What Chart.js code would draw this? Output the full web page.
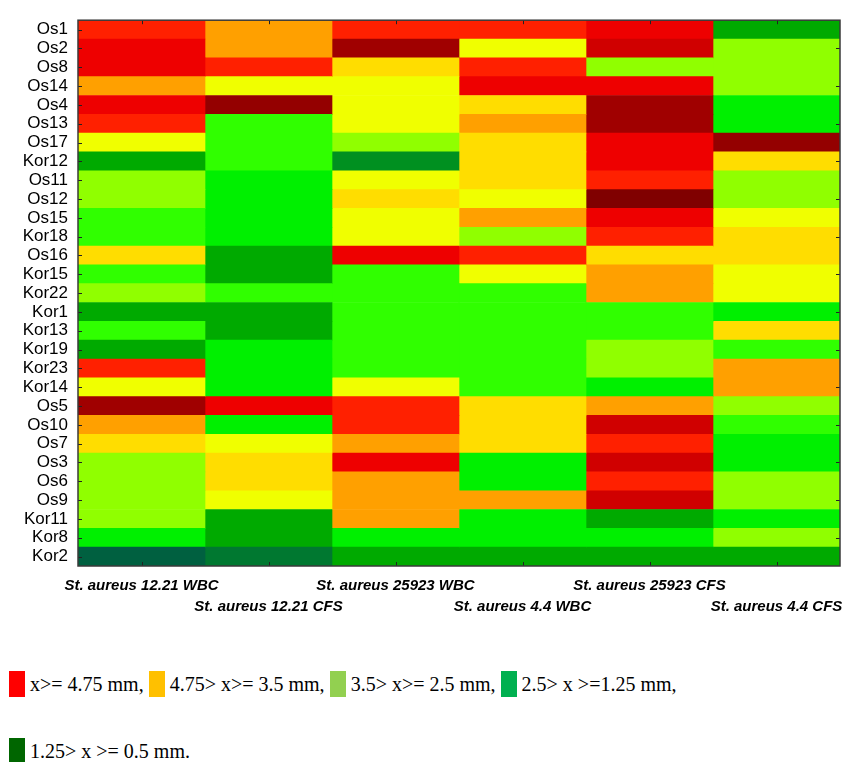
<!DOCTYPE html>
<html>
<head>
<meta charset="utf-8">
<script src="https://cdn.jsdelivr.net/npm/chart.js@4.4.1/dist/chart.umd.min.js"></script>
<style>
  html, body { margin: 0; padding: 0; background: #ffffff; }
  body { width: 856px; height: 762px; position: relative; overflow: hidden; }
  #wrap { position: absolute; left: 0; top: 0; width: 856px; height: 625px; }
  .leg { position: absolute; left: 9px; display: flex; align-items: flex-start;
         font-family: 'Liberation Serif', 'Times New Roman', serif; font-size: 20px;
         line-height: 26px; color: #000; white-space: pre; }
  .sw { display: inline-block; width: 16px; height: 26px; margin-right: 5px; flex: none; }
</style>
</head>
<body>
<div id="wrap"><canvas id="c" width="856" height="625"></canvas></div>
<div class="leg" id="leg1" style="top:671px"></div>
<div class="leg" id="leg2" style="top:738px"></div>
<script>
// ---- data ----
const rowLabels = ['Os1','Os2','Os8','Os14','Os4','Os13','Os17','Kor12','Os11','Os12','Os15','Kor18','Os16','Kor15','Kor22','Kor1','Kor13','Kor19','Kor23','Kor14','Os5','Os10','Os7','Os3','Os6','Os9','Kor11','Kor8','Kor2'];
const columnLabels = ['St. aureus 12.21 WBC','St. aureus 12.21 CFS','St. aureus 25923 WBC','St. aureus 4.4 WBC','St. aureus 25923 CFS','St. aureus 4.4 CFS'];

// inhibition zone (mm), estimated from the colour levels, one array per column
const aureus1221WBC  = [4.9,5.3,5.3,4.4,5.3,4.9,3.2,1.2,2.7,2.7,2.0,2.0,3.8,2.0,2.7,1.2,2.0,1.2,4.9,3.2,6.1,4.4,3.8,2.7,2.7,2.7,2.7,1.6,0.55];
const aureus1221CFS  = [4.4,4.4,4.9,3.2,6.4,2.0,2.0,2.0,1.6,1.6,1.6,1.6,1.2,1.2,2.0,1.2,1.2,1.6,1.6,1.6,5.3,1.6,3.2,3.8,3.8,3.2,1.2,1.2,0.8];
const aureus25923WBC = [4.9,6.1,3.8,3.2,3.2,3.2,2.7,1.0,3.2,3.8,3.2,3.2,5.3,2.0,2.0,2.0,2.0,2.0,2.0,3.2,4.9,4.9,4.4,5.3,4.4,4.4,4.4,1.6,1.2];
const aureus44WBC    = [4.9,3.2,4.9,5.3,3.8,4.4,3.8,3.8,3.8,3.2,4.4,2.7,4.9,3.2,2.0,2.0,2.0,2.0,2.0,2.0,3.8,3.8,3.8,1.6,1.6,4.4,1.6,1.6,1.2];
const aureus25923CFS = [5.3,5.7,2.7,5.3,6.1,6.1,5.3,5.3,4.9,6.8,5.3,4.9,3.8,4.4,4.4,2.0,2.0,2.7,2.7,1.6,4.4,5.7,4.9,5.7,4.9,5.7,1.2,1.6,1.2];
const aureus44CFS    = [1.2,2.7,2.7,2.7,1.6,1.6,6.4,3.8,2.7,2.7,3.2,3.8,3.8,3.2,3.2,1.6,3.8,2.0,4.4,4.4,2.7,2.0,1.6,1.6,2.7,2.7,1.6,2.7,1.2];
const columnValues = [aureus1221WBC, aureus1221CFS, aureus25923WBC, aureus44WBC, aureus25923CFS, aureus44CFS];

// colour levels (upper limit, colour)
const levelLimits = [0.7, 0.9, 1.1, 1.4, 1.8, 2.4, 3.0, 3.5, 4.1, 4.75, 5.1, 5.5, 5.9, 6.25, 6.6, Infinity];
const levelColors = ['#006040','#007830','#009020','#00AA00','#00F000','#30FF00','#90FF00','#F0FF00','#FFDD00','#FFA000','#FF2000','#EE0000','#D00000','#A00000','#940000','#800000'];

const legendLabels = ['x>= 4.75 mm, ', '4.75> x>= 3.5 mm, ', '3.5> x>= 2.5 mm, ', '2.5> x >=1.25 mm,', '1.25> x >= 0.5 mm.'];
const legendColors = ['#FF0000', '#FFC000', '#92D050', '#00B050', '#006600'];

// ---- helpers ----
function colorFor(v) {
  for (let i = 0; i < levelLimits.length; i++) if (v < levelLimits[i]) return levelColors[i];
  return levelColors[levelColors.length - 1];
}

// legend (HTML text)
legendLabels.forEach((lab, i) => {
  const host = document.getElementById(i < 4 ? 'leg1' : 'leg2');
  const sw = document.createElement('span'); sw.className = 'sw'; sw.style.background = legendColors[i];
  const tx = document.createElement('span'); tx.textContent = lab;
  host.appendChild(sw); host.appendChild(tx);
});

const frameAndTicks = {
  id: 'frameAndTicks',
  afterDatasetsDraw(chart) {
    const { ctx, chartArea: a, scales: { x, y } } = chart;
    ctx.save();
    ctx.strokeStyle = '#222';
    ctx.lineWidth = 1;
    const line = (x1, y1, x2, y2) => { ctx.beginPath(); ctx.moveTo(x1, y1); ctx.lineTo(x2, y2); ctx.stroke(); };
    x.ticks.forEach(t => {
      const px = Math.round(x.getPixelForValue(t.value)) + 0.5;
      line(px, a.top, px, a.top + 4);
      line(px, a.bottom, px, a.bottom - 4);
    });
    rowLabels.forEach((_, i) => {
      const py = Math.round(y.getPixelForValue(i)) + 0.5;
      line(a.left, py, a.left + 4, py);
      if (i % 2 === 1) line(a.right, py, a.right - 4, py);
    });
    ctx.strokeStyle = '#3a3a3a';
    ctx.lineWidth = 1.5;
    ctx.strokeRect(a.left, a.top, a.right - a.left, a.bottom - a.top);
    ctx.restore();
  }
};

const datasets = columnValues.map((vals, ci) => ({
  label: columnLabels[ci],
  data: vals.map(() => [ci, ci + 1]),
  backgroundColor: vals.map(colorFor),
  borderWidth: 0,
  barPercentage: 1,
  categoryPercentage: 1,
  grouped: false
}));

new Chart(document.getElementById('c'), {
  type: 'bar',
  data: { labels: rowLabels, datasets },
  plugins: [frameAndTicks],
  options: {
    indexAxis: 'y',
    responsive: false,
    devicePixelRatio: 1,
    animation: false,
    layout: { padding: { left: 0, top: 9, right: 16, bottom: 0 } },
    plugins: { legend: { display: false }, tooltip: { enabled: false } },
    scales: {
      x: {
        type: 'linear', min: 0, max: columnLabels.length,
        grid: { display: false, drawTicks: false },
        border: { display: false },
        afterBuildTicks: s => { s.ticks = columnLabels.map((_, i) => ({ value: i + 0.5 })); },
        afterFit: s => { s.height = 59; },
        ticks: {
          autoSkip: false, maxRotation: 0, minRotation: 0, padding: 9.5,
          color: '#000',
          font: { family: "'Liberation Sans Narrow', 'Arial Narrow', 'Liberation Sans', sans-serif", size: 15, weight: 'bold', style: 'italic', lineHeight: '21px' },
          callback: v => {
            const i = Math.floor(v);
            return i % 2 === 0 ? [columnLabels[i], ''] : ['', columnLabels[i]];
          }
        }
      },
      y: {
        type: 'category',
        grid: { display: false, drawTicks: false },
        border: { display: false },
        afterFit: s => { s.width = 78; },
        ticks: {
          autoSkip: false, padding: 10, color: '#000',
          font: { family: "'Liberation Sans', Arial, sans-serif", size: 17 }
        }
      }
    }
  }
});
</script>
</body>
</html>
